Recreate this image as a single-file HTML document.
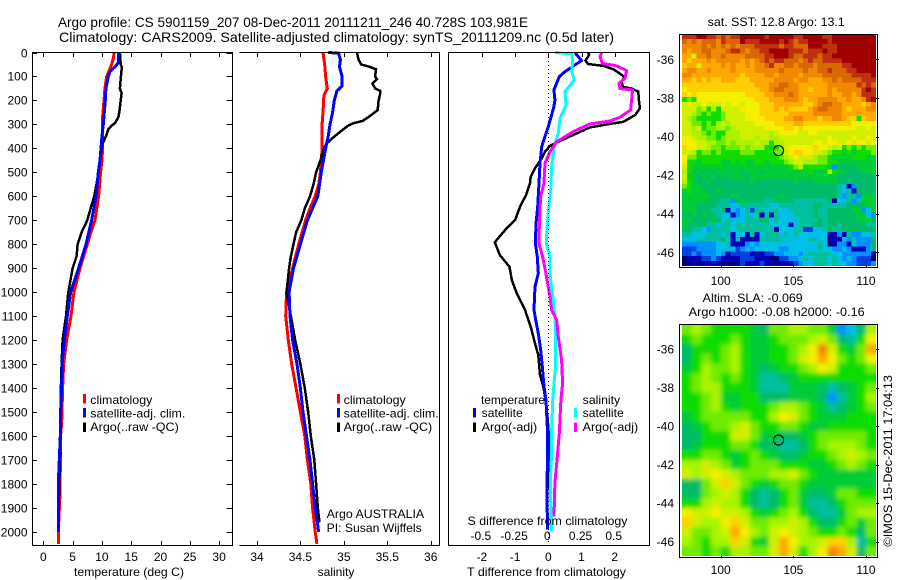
<!DOCTYPE html>
<html>
<head>
<meta charset="utf-8">
<title>Argo profile</title>
<style>
html,body{margin:0;padding:0;background:#fff;}
svg{display:block;}
text{font-family:"Liberation Sans",sans-serif;font-size:12px;fill:#000;}
.c{text-anchor:middle;}
.r{text-anchor:end;}
</style>
</head>
<body>
<svg id="chart" xmlns="http://www.w3.org/2000/svg" width="900" height="580" viewBox="0 0 900 580">
<defs>
<filter id="slaBlur" filterUnits="userSpaceOnUse" x="670" y="315" width="220" height="252"><feGaussianBlur stdDeviation="2.5"/></filter>
<clipPath id="slaClip"><rect x="682" y="325" width="194" height="231"/></clipPath>
</defs>
<rect x="0" y="0" width="900" height="580" fill="#fff"/>
<g id="tickLayer"></g>
<g id="mapLayer"></g>
<g id="lineLayer"></g>

<text x="58" y="27" style="font-size:14px" textLength="470" lengthAdjust="spacingAndGlyphs">Argo profile: CS 5901159_207 08-Dec-2011 20111211_246 40.728S 103.981E</text>
<text x="59" y="42" style="font-size:14px" textLength="555" lengthAdjust="spacingAndGlyphs">Climatology: CARS2009. Satellite-adjusted climatology: synTS_20111209.nc (0.5d later)</text>

<g stroke="#000" stroke-width="1" fill="none" shape-rendering="crispEdges">
<path d="M32.5 545.5V52.5H232.5V545.5H32.5"/>
<path d="M239.5 52.5H439.5V545.5H239.5"/>
<path d="M448.5 545.5V52.5H649.5V545.5H448.5"/>
<rect x="679.5" y="34.5" width="198" height="233"/>
<rect x="679.5" y="324.5" width="198" height="233"/>
</g>
<line x1="548.5" y1="53" x2="548.5" y2="545" stroke="#000" stroke-width="1" stroke-dasharray="1 3" shape-rendering="crispEdges"/>

<text x="129" y="576" class="c" textLength="110" lengthAdjust="spacingAndGlyphs">temperature (deg C)</text>
<text x="336" y="576" class="c">salinity</text>
<text x="546.5" y="576" class="c" textLength="159" lengthAdjust="spacingAndGlyphs">T difference from climatology</text>
<text x="547.5" y="525" class="c" textLength="160" lengthAdjust="spacingAndGlyphs">S difference from climatology</text>

<g>
<rect x="83" y="394" width="3" height="9.5" fill="#f00"/>
<rect x="83" y="408" width="3" height="9.5" fill="#00f"/>
<rect x="83" y="422.5" width="3" height="9.5" fill="#000"/>
<text x="90.3" y="404" textLength="62" lengthAdjust="spacingAndGlyphs">climatology</text>
<text x="90.3" y="417.5" textLength="95" lengthAdjust="spacingAndGlyphs">satellite-adj. clim.</text>
<text x="90.3" y="431" textLength="88.5" lengthAdjust="spacingAndGlyphs">Argo(..raw -QC)</text>
</g>
<g>
<rect x="337" y="394" width="3" height="9.5" fill="#f00"/>
<rect x="337" y="408" width="3" height="9.5" fill="#00f"/>
<rect x="337" y="422.5" width="3" height="9.5" fill="#000"/>
<text x="343.7" y="404" textLength="62" lengthAdjust="spacingAndGlyphs">climatology</text>
<text x="343.7" y="417.5" textLength="95" lengthAdjust="spacingAndGlyphs">satellite-adj. clim.</text>
<text x="343.7" y="431" textLength="88.5" lengthAdjust="spacingAndGlyphs">Argo(..raw -QC)</text>
</g>
<text x="326.7" y="518" textLength="97.5" lengthAdjust="spacingAndGlyphs">Argo AUSTRALIA</text>
<text x="326.7" y="532" textLength="95" lengthAdjust="spacingAndGlyphs">PI: Susan Wijffels</text>

<g>
<text x="481" y="404" textLength="64" lengthAdjust="spacingAndGlyphs">temperature</text>
<text x="481.7" y="417" textLength="41" lengthAdjust="spacingAndGlyphs">satellite</text>
<text x="481.7" y="431" textLength="55.5" lengthAdjust="spacingAndGlyphs">Argo(-adj)</text>
<rect x="473" y="408" width="3" height="9.5" fill="#00f"/>
<rect x="473" y="422.5" width="3" height="9.5" fill="#000"/>
<text x="582.7" y="404" textLength="37.5" lengthAdjust="spacingAndGlyphs">salinity</text>
<text x="582.7" y="417" textLength="41" lengthAdjust="spacingAndGlyphs">satellite</text>
<text x="582.7" y="431" textLength="55.5" lengthAdjust="spacingAndGlyphs">Argo(-adj)</text>
<rect x="574" y="408" width="3" height="9.5" fill="#0ff"/>
<rect x="574" y="422.5" width="3" height="9.5" fill="#f0f"/>
</g>

<text x="707.7" y="26" textLength="137" lengthAdjust="spacingAndGlyphs">sat. SST: 12.8 Argo: 13.1</text>
<text x="702.7" y="302" textLength="100" lengthAdjust="spacingAndGlyphs">Altim. SLA: -0.069</text>
<text x="688.7" y="316" textLength="176" lengthAdjust="spacingAndGlyphs">Argo h1000: -0.08 h2000: -0.16</text>
<text transform="translate(892 546.7) rotate(-90)" textLength="171.7" lengthAdjust="spacingAndGlyphs">©IMOS 15-Dec-2011 17:04:13</text>
</svg>

<script>
// Profile panels: depth ticks and x-axis ticks
var depthTicks = [0,100,200,300,400,500,600,700,800,900,1000,1100,1200,1300,1400,1500,1600,1700,1800,1900,2000];
var tempTicks = [0,5,10,15,20,25,30];
var salTicks = [34,34.5,35,35.5,36];
var salTickLabels = ["34","34.5","35","35.5","36"];
var tDiffTicks = [-2,-1,0,1,2];
var sDiffTicks = [-0.5,-0.25,0,0.25,0.5];
var sDiffTickLabels = ["-0.5","-0.25","0","0.25","0.5"];
var lonTicks = [100,105,110];
var latTicks = [-36,-38,-40,-42,-44,-46];

// Temperature panel
var tempClimDepth = [0,25,50,85,100,150,200,270,350,400,450,500,600,700,750,800,900,1000,1100,1200,1300,1400,1500,1550,1600,1700,1800,1850,2000,2050];
var tempClimValue = [12.1,11.95,11.66,11.09,10.8,10.52,10.35,10.12,10.12,10.12,10.0,9.78,9.44,8.82,8.13,7.5,6.26,5.23,4.72,3.98,3.47,3.3,3.19,3.13,2.96,2.96,2.84,2.84,2.56,2.56];
var tempArgoDepth = [0,50,60,100,150,170,200,250,270,295,305,320,350,380,400,500,600,650,700,750,800,850,900,1000,1100,1200,1300,1400,1500,1600,1700,1800,1850];
var tempArgoValue = [13.08,13.2,13.42,13.25,13.08,13.37,13.2,12.97,12.8,12.23,11.66,11.09,10.69,10.12,9.95,9.44,8.7,8.08,7.51,6.54,5.86,5.69,5.0,4.27,3.87,3.3,3.13,3.01,2.96,2.96,2.84,2.73,2.73];
var tempSatDepth = [0,40,60,80,100,150,200,250,300,350,400,450,500,600,700,800,900,1000,1100,1200,1300,1400,1500,1600,1700,1800,2000];
var tempSatValue = [12.86,12.86,12.23,11.38,11.09,10.69,10.58,10.41,10.24,10.0,9.84,9.67,9.39,8.99,8.25,7.28,6.03,4.66,4.1,3.58,3.19,3.13,2.96,2.9,2.73,2.56,2.56];

// Salinity panel
var salClimDepth = [0,50,100,150,180,250,300,350,400,450,500,550,600,650,700,800,900,1000,1100,1200,1300,1400,1500,1600,1700,1800,1900,2000,2050];
var salClimValue = [34.76,34.78,34.79,34.81,34.77,34.76,34.75,34.75,34.75,34.74,34.73,34.71,34.67,34.61,34.56,34.48,34.41,34.34,34.33,34.36,34.4,34.45,34.5,34.55,34.58,34.62,34.64,34.67,34.69];
var salArgoDepth = [0,30,50,60,70,100,110,130,150,160,170,200,240,260,285,295,305,330,360,380,400,450,500,550,600,650,700,750,800,850,900,1000,1100,1200,1300,1400,1500,1600,1700,1800,1900,1960];
var salArgoValue = [35.15,35.17,35.2,35.3,35.37,35.36,35.38,35.33,35.36,35.42,35.42,35.4,35.39,35.32,35.22,35.11,35.05,34.96,34.86,34.8,34.77,34.73,34.68,34.65,34.61,34.55,34.51,34.45,34.42,34.39,34.37,34.34,34.39,34.44,34.5,34.55,34.59,34.62,34.66,34.68,34.7,34.72];
var salSatDepth = [0,3,30,60,100,140,160,200,250,300,350,400,500,600,700,800,900,1000,1100,1200,1300,1400,1500,1600,1700,1800,1900,2000];
var salSatValue = [34.82,34.94,34.96,34.95,34.98,34.98,34.92,34.89,34.87,34.84,34.82,34.79,34.74,34.7,34.58,34.5,34.42,34.37,34.38,34.41,34.46,34.5,34.53,34.57,34.61,34.64,34.67,34.71];

// Difference panel
var dTempSatDepth = [0,34,80,101,156,198,226,309,393,462,546,643,713,796,852,921,977,1032,1074,1116,1172,1241,1310,1394,1450,1561,1727,1866,1990];
var dTempSatValue = [0.8,1.0,0.5,0.33,0.17,0.2,0.17,0,-0.2,-0.25,-0.28,-0.32,-0.37,-0.39,-0.33,-0.3,-0.4,-0.42,-0.43,-0.38,-0.3,-0.23,-0.18,-0.13,-0.07,-0.03,-0.03,-0.04,-0.02];
var dTempArgoDepth = [0,10,34,48,56,70,84,101,122,143,150,163,198,233,261,289,298,312,344,372,390,414,442,462,483,518,546,594,643,699,734,792,845,894,949,1005,1032,1074,1088,1144,1213,1262,1345,1394,1463,1561,1644,1825];
var dTempArgoValue = [1.2,1.23,1.12,1.2,1.66,1.96,2.11,2.29,2.21,2.24,2.51,2.71,2.73,2.76,2.61,2.26,1.86,1.26,0.75,0.3,0.05,-0.1,-0.2,-0.3,-0.4,-0.53,-0.55,-0.67,-0.85,-1.0,-1.26,-1.61,-1.46,-1.17,-1.1,-0.95,-0.85,-0.7,-0.67,-0.53,-0.4,-0.3,-0.25,-0.15,-0.07,0,0.03,0];
var dSalSatDepth = [0,6,38,80,115,163,219,275,337,379,476,574,664,768,803,852,921,984,1032,1074,1088,1172,1310,1380,1450,1589,1672,1755,1866,1998];
var dSalSatValue = [0.05,0.176,0.183,0.176,0.196,0.126,0.133,0.088,0.075,0.05,0.025,0.018,0,-0.013,-0.013,0.013,0.013,0.025,0.038,0.043,0.05,0.055,0.055,0.043,0.033,0.025,0.025,0.018,0.018,0.025];
var dSalArgoDepth = [0,17,45,56,76,108,129,150,156,198,240,270,286,298,330,372,414,462,546,601,727,796,852,921,1019,1074,1116,1186,1283,1380,1450,1589,1713,1797,1936];
var dSalArgoValue = [0.402,0.389,0.407,0.515,0.59,0.577,0.532,0.54,0.635,0.627,0.62,0.54,0.464,0.314,0.188,0.063,0.013,-0.025,-0.033,-0.058,-0.068,-0.07,-0.043,-0.018,0.013,0.025,0.063,0.075,0.1,0.108,0.095,0.083,0.063,0.05,0.043];

// Map positions of the float
var floatLon = [103.981];
var floatLat = [-40.728];

// Shared colour levels for both maps (level index into this list)
var mapColours = ["#000080","#0000b8","#0040e0","#0090ff","#00c0e8","#00c0a0","#00bc68","#00cc38","#10dc00","#70ec00","#a8f400","#d0f000","#f4f000","#ffd000","#ffa800","#f08800","#d86800","#c03010","#a00000"];

// SST map, one list per row (north to south), west to east
var sstLevels = [
[17,17,17,18,18,17,17,16,17,16,17,17,18,18,18,18,18,17,18,18,18,18,18,17,17,18,18,18,18,17,17,18,18,18,18,18,18,18,18,18],
[16,15,16,15,16,16,16,15,17,16,16,16,18,17,17,17,18,18,18,18,17,18,17,16,17,17,18,18,18,18,17,18,18,18,18,18,18,18,18,18],
[15,15,15,15,16,15,16,15,16,15,16,15,16,16,16,17,17,17,17,17,16,17,17,16,16,16,18,18,18,17,17,17,18,18,18,18,18,18,18,18],
[15,14,15,15,16,16,15,15,15,16,17,17,16,15,16,16,17,17,18,18,18,18,17,17,17,16,17,17,17,18,17,17,18,18,18,18,18,18,18,18],
[14,14,11,15,15,16,15,15,16,15,15,15,15,16,16,16,16,17,17,18,18,18,17,16,16,17,17,17,16,17,17,18,18,18,18,18,18,18,18,18],
[14,13,14,14,14,15,14,15,15,15,15,15,14,15,14,15,16,17,16,17,17,16,16,16,15,16,17,16,16,17,17,17,17,18,18,18,18,18,18,18],
[13,14,14,11,14,14,14,14,15,14,15,14,14,15,14,15,15,16,17,15,15,16,16,15,16,16,16,15,16,16,16,16,16,17,17,18,18,18,18,18],
[14,15,15,14,14,15,14,14,14,14,15,14,14,14,14,15,15,15,15,15,16,15,15,15,15,16,15,15,16,16,17,16,16,16,17,17,18,18,18,18],
[15,15,14,14,14,14,14,14,14,14,14,14,13,14,14,14,14,15,15,14,15,15,15,15,14,15,15,15,15,16,16,16,16,16,16,17,17,17,17,18],
[14,14,13,14,13,14,13,13,14,14,14,13,13,13,14,14,14,14,14,15,15,15,15,14,15,15,14,14,14,15,15,16,15,16,16,16,16,17,17,17],
[13,13,13,13,13,13,13,13,13,13,13,13,13,13,13,14,14,14,15,15,16,16,15,15,14,14,14,14,14,14,15,15,15,15,15,15,17,16,17,16],
[12,13,13,13,13,13,13,13,13,13,13,13,13,13,13,13,14,14,15,16,16,15,15,15,14,14,13,14,14,14,15,14,15,15,15,15,15,17,18,17],
[13,12,13,12,12,12,12,12,12,12,12,12,12,13,13,13,13,14,14,15,15,15,16,15,14,14,14,14,14,14,15,14,14,15,15,14,15,17,17,17],
[8,9,8,12,12,12,12,12,12,12,12,12,12,12,12,13,13,13,14,14,14,15,15,15,14,13,14,14,15,15,15,15,14,14,15,14,14,15,17,18],
[11,12,11,11,12,11,11,11,12,11,12,12,11,12,12,12,13,13,13,14,14,14,14,14,14,13,13,14,15,16,16,15,15,14,14,14,14,13,14,15],
[11,11,11,9,10,8,10,8,11,11,11,11,12,12,12,12,13,13,13,14,13,14,13,13,13,13,14,15,16,16,15,15,15,14,13,14,14,14,15,15],
[11,11,10,9,8,9,8,8,9,11,11,11,11,12,12,12,13,13,13,13,13,13,14,14,14,14,14,15,15,15,15,15,15,14,14,14,14,14,14,14],
[11,10,9,8,8,8,8,8,9,11,11,11,11,12,12,12,12,13,13,13,13,14,14,15,15,14,14,14,13,14,14,15,15,14,13,13,8,13,14,14],
[11,11,9,9,8,9,8,10,11,10,11,11,11,11,11,12,12,12,12,13,13,13,13,14,14,13,13,13,13,13,13,13,13,13,13,12,12,12,12,12],
[11,11,10,11,8,9,9,10,10,9,10,11,11,11,11,11,11,12,12,12,12,13,13,12,13,12,12,12,12,12,12,12,12,12,12,12,11,11,12,11],
[11,11,10,10,9,8,9,8,8,10,10,10,11,11,11,11,11,11,10,11,12,12,12,12,11,11,12,12,11,11,11,11,11,11,11,11,11,11,11,11],
[12,12,11,10,10,9,9,8,9,10,10,10,11,11,11,10,11,11,10,10,11,11,11,11,11,11,11,11,11,11,12,11,11,11,11,12,11,11,12,11],
[12,12,12,11,11,10,10,9,9,10,9,10,10,10,10,11,10,10,8,10,10,11,11,11,11,11,11,12,12,11,12,12,11,11,12,11,12,12,11,12],
[13,12,12,11,11,10,9,9,8,9,9,9,10,9,10,10,10,8,8,8,10,11,12,12,12,12,12,13,12,12,11,10,11,8,9,8,9,8,9,9],
[11,11,10,8,9,9,8,9,8,8,8,8,9,9,9,8,8,8,8,9,9,11,12,13,13,12,12,11,11,10,9,8,8,7,8,7,8,8,8,9],
[12,9,9,8,8,8,8,8,8,8,8,8,8,8,8,8,8,8,8,8,9,10,11,12,11,11,11,10,9,9,8,7,7,7,7,8,8,8,7,7],
[12,8,8,7,8,8,8,8,7,7,8,7,8,7,7,8,8,7,8,8,8,9,10,11,11,10,10,10,9,9,8,8,7,7,7,7,7,7,7,7],
[11,8,7,7,7,7,7,7,7,7,7,7,7,7,7,7,7,7,7,7,7,7,8,9,10,8,8,8,8,8,7,3,7,6,6,6,7,7,7,7],
[10,8,7,7,6,7,6,7,7,7,7,7,6,7,7,7,6,7,7,7,7,7,7,7,7,7,8,7,7,7,10,8,7,7,6,6,6,7,7,7],
[11,7,7,6,7,6,7,6,7,6,7,7,7,6,7,7,7,7,7,7,7,7,7,7,7,7,7,7,7,7,7,7,6,6,6,6,6,6,6,6],
[10,8,7,6,6,7,6,6,6,6,6,6,6,6,7,6,6,6,6,6,6,6,6,7,6,6,6,7,7,7,7,7,6,6,6,6,6,6,6,6],
[9,8,7,7,6,6,6,6,6,6,6,6,6,6,6,6,6,6,6,6,6,6,6,6,6,6,6,6,6,6,6,6,5,4,1,3,6,6,6,6],
[7,8,7,7,7,6,6,7,6,6,6,6,6,6,6,6,6,6,6,6,6,6,6,6,6,6,6,6,6,6,6,6,5,4,5,1,6,6,6,6],
[7,7,7,7,7,7,6,6,6,6,7,7,6,6,6,6,6,6,6,6,7,6,6,6,6,6,6,6,6,6,6,6,5,3,5,5,3,7,7,7],
[7,7,7,7,7,6,6,6,5,5,3,6,7,6,6,6,6,5,5,6,6,6,6,5,5,5,5,5,5,5,6,1,4,4,5,3,5,7,7,7],
[7,7,7,6,6,6,6,5,5,5,4,4,5,5,5,5,5,5,4,4,5,5,5,5,5,5,5,6,6,5,5,5,5,5,6,6,6,6,7,7],
[7,7,7,6,6,6,5,5,6,1,4,3,4,5,2,5,5,4,5,5,4,4,5,5,5,5,5,6,5,5,6,6,6,6,6,7,7,3,4,7],
[6,6,7,6,7,6,6,5,4,4,1,3,4,5,4,5,1,5,1,5,4,4,4,5,5,5,5,6,5,5,6,6,6,6,6,6,7,7,4,3],
[7,7,6,6,6,6,7,6,4,5,4,4,4,5,5,5,6,6,4,5,4,4,4,4,5,5,5,5,6,5,6,6,6,6,6,6,7,7,7,6],
[7,6,6,6,6,5,5,4,5,5,4,5,5,5,5,5,5,5,4,4,4,4,1,4,5,5,5,6,6,5,6,6,5,6,6,6,6,6,5,5],
[6,6,5,5,4,3,5,5,5,5,4,5,5,5,5,5,5,5,5,1,4,4,4,5,5,2,2,4,4,5,6,5,5,6,6,6,6,6,6,6],
[5,5,4,4,4,5,5,5,4,5,1,4,4,1,5,1,4,5,5,5,4,5,4,5,4,4,4,4,4,4,1,1,3,1,5,3,3,4,4,5],
[4,4,4,5,5,5,5,5,6,4,1,5,1,1,1,1,5,5,5,5,5,4,4,4,4,4,5,5,4,4,0,1,1,4,3,5,3,3,3,6],
[3,3,3,3,3,3,3,4,4,5,1,1,1,3,4,3,4,4,4,4,4,4,4,4,4,4,4,4,5,4,0,1,3,3,1,4,3,3,3,6],
[2,2,2,3,3,3,3,4,4,4,4,2,3,4,3,4,4,4,4,4,3,3,4,4,4,4,4,4,5,4,4,3,3,4,3,1,1,1,3,6],
[2,2,3,2,3,3,3,4,3,1,2,2,2,2,1,1,1,2,2,3,3,4,4,4,3,4,5,5,5,5,5,4,4,3,3,3,3,3,3,1],
[0,1,1,1,2,2,3,2,1,1,1,1,2,2,2,1,1,1,0,0,2,2,3,3,4,5,4,5,5,5,4,5,4,3,4,3,2,2,2,0],
[0,0,1,0,1,1,1,1,0,0,0,0,2,1,1,1,2,1,1,0,1,1,1,2,3,4,4,5,5,5,4,5,4,4,3,3,2,2,2,3]
];

// SLA map, one list per row (north to south), west to east
var slaLevels = [
[9,10,9,8,8,8,8,7,6,9,9,10,10,9,9,7,3,4,6,10],
[8,9,8,8,8,9,8,7,7,8,9,9,9,10,11,9,6,5,8,12],
[6,8,8,8,9,10,8,7,7,8,8,9,10,12,15,11,8,7,9,14],
[6,8,9,8,9,10,8,7,7,8,8,9,11,12,14,12,9,8,9,12],
[7,8,10,9,9,10,8,7,6,7,8,8,9,10,12,11,8,8,8,9],
[8,9,10,9,8,9,8,7,5,5,6,7,8,8,8,8,8,8,8,8],
[8,9,10,10,8,8,8,7,5,5,5,7,7,7,6,5,6,7,8,9],
[8,8,9,10,7,7,8,8,6,6,6,7,7,7,6,3,5,7,8,10],
[8,8,9,10,8,7,8,8,8,9,10,10,9,8,7,5,6,7,8,9],
[7,8,9,9,9,9,9,8,8,10,12,11,9,8,7,7,7,8,8,8],
[6,7,8,9,9,10,11,9,8,8,9,9,8,7,7,8,8,8,8,8],
[6,6,8,8,8,11,11,9,7,7,6,6,7,8,9,9,9,9,9,8],
[6,7,8,8,8,9,9,8,6,6,5,5,6,8,9,10,10,10,9,8],
[8,8,9,9,8,7,8,9,8,7,6,6,7,8,8,9,10,11,10,9],
[10,10,11,10,9,7,8,9,9,9,8,8,8,7,7,8,9,10,9,8],
[11,10,11,12,11,10,9,9,9,10,10,11,9,8,7,7,7,7,7,7],
[6,6,9,11,13,11,9,8,7,8,9,9,8,7,7,7,7,7,7,7],
[6,6,9,10,11,10,8,6,5,6,8,9,7,6,6,7,9,9,8,8],
[8,8,10,11,10,10,8,6,5,6,8,9,7,5,5,6,8,9,9,9],
[12,11,11,12,11,11,10,8,7,8,9,10,8,6,5,5,7,9,10,10],
[13,11,10,10,12,13,11,9,9,10,10,11,10,8,6,6,8,9,7,9],
[11,9,9,10,11,14,12,10,9,11,12,11,10,9,8,8,9,8,6,9],
[10,9,8,10,10,13,11,8,7,11,14,12,10,10,11,13,13,10,5,8],
[9,9,8,9,8,10,10,9,9,11,14,11,8,10,12,15,14,11,6,9]
];

// Axis functions
function yDepth(d){ return 52.5 + 0.2397 * d; }
function xTemp(v){ return 43.3 + 5.86 * v; }
function xSal(v){ return 257 + 86.85 * (v - 34); }
function xTDiff(v){ return 548.3 + 33.2 * v; }
function xSDiff(v){ return 548.3 + 132.8 * v; }
function xLon(v){ return 720.7 + 14.53 * (v - 100); }
function ySst(v){ return 59.3 + 19.3 * (-36 - v); }
function ySla(v){ return 349 + 19.27 * (-36 - v); }

var NS = "http://www.w3.org/2000/svg";
var tickLayer = document.getElementById("tickLayer");
var mapLayer = document.getElementById("mapLayer");
var lineLayer = document.getElementById("lineLayer");

function drawTick(x1, y1, x2, y2){
  var t = document.createElementNS(NS, "line");
  t.setAttribute("x1", x1);
  t.setAttribute("y1", y1);
  t.setAttribute("x2", x2);
  t.setAttribute("y2", y2);
  t.setAttribute("stroke", "#000");
  t.setAttribute("shape-rendering", "crispEdges");
  
  
  tickLayer.appendChild(t);
}
function drawLabel(x, y, str, anchor){
  var t = document.createElementNS(NS, "text");
  t.setAttribute("x", x);
  t.setAttribute("y", y);
  t.setAttribute("text-anchor", anchor);
  t.textContent = str;
  
  
  tickLayer.appendChild(t);
}

depthTicks.forEach(function(d){
  var y = Math.round(yDepth(d)) + 0.5;
  drawTick(33, y, 37, y);
  drawTick(226.5, y, 232, y);
  drawLabel(27.5, y + 4, String(d), "end");
});
tempTicks.forEach(function(v){
  var x = Math.round(xTemp(v)) + 0.5;
  drawTick(x, 53, x, 57);
  drawTick(x, 541, x, 545);
  drawLabel(xTemp(v), 561, String(v), "middle");
});
salTicks.forEach(function(v, i){
  var x = Math.round(xSal(v)) + 0.5;
  drawTick(x, 53, x, 57);
  drawTick(x, 541, x, 545);
  drawLabel(xSal(v), 561, salTickLabels[i], "middle");
});
tDiffTicks.forEach(function(v){
  var x = Math.round(xTDiff(v)) + 0.5;
  drawTick(x, 53, x, 57);
  drawLabel(xTDiff(v), 561, String(v), "middle");
});
sDiffTicks.forEach(function(v, i){
  drawLabel(xSDiff(v) - 1, 540, sDiffTickLabels[i], "middle");
});

function drawMap(levels, lonStart, lonStep, latStart, latStep, yFn, name, parent){
  levels.forEach(function(row, r){
    row.forEach(function(level, c){
      var x0 = xLon(lonStart + c * lonStep);
      var x1 = xLon(lonStart + (c + 1) * lonStep);
      var y0 = yFn(latStart - r * latStep);
      var y1 = yFn(latStart - (r + 1) * latStep);
      var cell = document.createElementNS(NS, "rect");
      cell.setAttribute("x", x0);
      cell.setAttribute("y", y0);
      cell.setAttribute("width", x1 - x0);
      cell.setAttribute("height", y1 - y0);
      cell.setAttribute("fill", mapColours[level]);
      cell.setAttribute("shape-rendering", "crispEdges");
      
      
      parent.appendChild(cell);
    });
  });
}
drawMap(sstLevels, 97.34, 1/3, -34.7, 0.25, ySst, 'sst-cell', mapLayer);

var slaBase = document.createElementNS(NS, "g");
slaBase.setAttribute("id", "slaBase");


mapLayer.appendChild(slaBase);
drawMap(slaLevels, 97.34, 2/3, -34.75, 0.5, ySla, 'sla-cell', slaBase);

// smoothed copy of the SLA cells, laid over them and clipped to the map area
var slaSmooth = document.createElementNS(NS, "g");
slaSmooth.setAttribute("clip-path", "url(#slaClip)");


var slaUse = document.createElementNS(NS, "use");
slaUse.setAttribute("href", "#slaBase");
slaUse.setAttribute("filter", "url(#slaBlur)");


slaSmooth.appendChild(slaUse);
mapLayer.appendChild(slaSmooth);

function drawFloat(yFn, name){
  var c = document.createElementNS(NS, "circle");
  c.setAttribute("cx", xLon(floatLon[0]));
  c.setAttribute("cy", yFn(floatLat[0]));
  c.setAttribute("r", 5);
  c.setAttribute("fill", "none");
  c.setAttribute("stroke", "#000");
  c.setAttribute("stroke-width", 1.1);
  
  
  mapLayer.appendChild(c);
}
drawFloat(ySst, 'sst-float-marker');
drawFloat(ySla, 'sla-float-marker');

lonTicks.forEach(function(v){
  var x = Math.round(xLon(v)) + 0.5;
  drawTick(x, 35, x, 34);
  drawTick(x, 266, x, 267);
  drawTick(x, 325, x, 324);
  drawTick(x, 556, x, 557);
  drawLabel(xLon(v), 285, String(v), "middle");
  drawLabel(xLon(v), 574, String(v), "middle");
});
latTicks.forEach(function(v){
  var a = Math.round(ySst(v)) + 0.5;
  var b = Math.round(ySla(v)) + 0.5;
  drawTick(876, a, 879, a);
  drawTick(876, b, 879, b);
  drawLabel(674, ySst(v) + 4.5, String(v), "end");
  drawLabel(674, ySla(v) + 4.5, String(v), "end");
});

function drawLine(xFn, depths, values, colour, width, name){
  var pts = depths.map(function(d, i){
    return xFn(values[i]).toFixed(1) + "," + yDepth(d).toFixed(1);
  }).join(" ");
  var p = document.createElementNS(NS, "polyline");
  p.setAttribute("points", pts);
  p.setAttribute("fill", "none");
  p.setAttribute("stroke", colour);
  p.setAttribute("stroke-width", width);
  p.setAttribute("shape-rendering", "crispEdges");
  
  
  lineLayer.appendChild(p);
}
drawLine(xTemp, tempClimDepth, tempClimValue, "#f00", 3, 'temperature-climatology-line');
drawLine(xTemp, tempArgoDepth, tempArgoValue, "#000", 2.5, 'temperature-argo-line');
drawLine(xTemp, tempSatDepth, tempSatValue, "#00f", 3, 'temperature-satellite-line');
drawLine(xSal, salClimDepth, salClimValue, "#f00", 3, 'salinity-climatology-line');
drawLine(xSal, salArgoDepth, salArgoValue, "#000", 2.5, 'salinity-argo-line');
drawLine(xSal, salSatDepth, salSatValue, "#00f", 3, 'salinity-satellite-line');
drawLine(xTDiff, dTempArgoDepth, dTempArgoValue, "#000", 2.5, 't-difference-argo-line');
drawLine(xTDiff, dTempSatDepth, dTempSatValue, "#00f", 3, 't-difference-satellite-line');
drawLine(xSDiff, dSalSatDepth, dSalSatValue, "#0ff", 3, 's-difference-satellite-line');
drawLine(xSDiff, dSalArgoDepth, dSalArgoValue, "#f0f", 3, 's-difference-argo-line');
</script>
</body>
</html>
